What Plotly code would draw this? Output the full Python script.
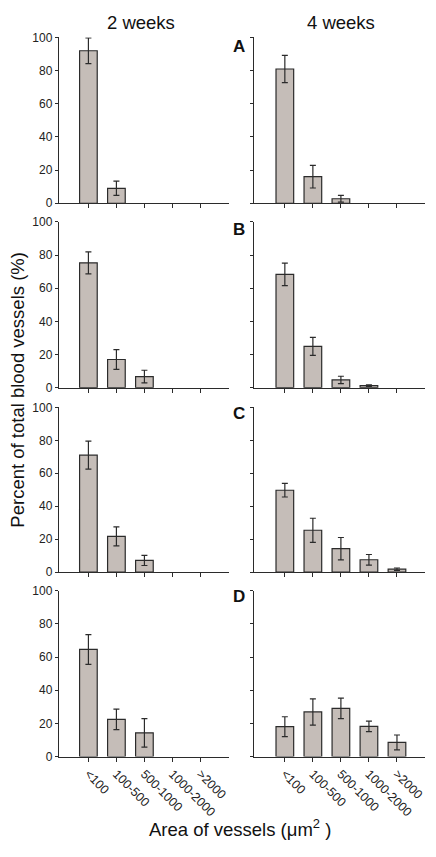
import plotly.graph_objects as go

categories = ["<100", "100-500", "500-1000", "1000-2000", ">2000"]
panel_letters = ["A", "B", "C", "D"]

# 2 weeks (left column), rows A-D
wk2_vals = [
    [92.0, 9.0, 0, 0, 0],
    [75.3, 17.0, 6.7, 0, 0],
    [71.0, 21.7, 7.1, 0, 0],
    [64.6, 22.4, 14.3, 0, 0],
]
wk2_err = [
    [7.8, 4.3, 0, 0, 0],
    [6.6, 6.0, 3.8, 0, 0],
    [8.5, 5.8, 3.1, 0, 0],
    [9.0, 6.2, 8.6, 0, 0],
]
# 4 weeks (right column), rows A-D
wk4_vals = [
    [81.0, 16.0, 2.7, 0, 0],
    [68.4, 24.9, 4.7, 1.2, 0],
    [49.7, 25.4, 14.2, 7.5, 1.8],
    [18.0, 26.9, 29.1, 18.2, 8.5],
]
wk4_err = [
    [8.2, 6.8, 2.0, 0, 0],
    [6.8, 5.4, 2.2, 0.5, 0],
    [4.1, 7.3, 6.8, 3.2, 0.7],
    [6.0, 7.9, 6.2, 3.2, 4.5],
]

W, H = 436, 857
x_px = [(59, 229), (254, 425)]
y_px = [(31, 199.5), (218.5, 387), (407, 574.5), (593.5, 762)]

bar_fill = "#c5bdb8"
ink = "#2b2b2b"
font_fam = "Liberation Sans, Arial, sans-serif"

fig = go.Figure()
layout = {}
idx = 0
for r in range(4):
    for c in range(2):
        idx += 1
        vals = wk2_vals[r] if c == 0 else wk4_vals[r]
        errs = wk2_err[r] if c == 0 else wk4_err[r]
        ys = [v if v > 0 else None for v in vals]
        es = [e if v > 0 else None for v, e in zip(vals, errs)]
        xa = "x" if idx == 1 else f"x{idx}"
        ya = "y" if idx == 1 else f"y{idx}"
        fig.add_trace(go.Bar(
            x=categories, y=ys, xaxis=xa, yaxis=ya,
            width=0.63,
            marker=dict(color=bar_fill, line=dict(color=ink, width=1.2)),
            error_y=dict(type="data", array=es, visible=True,
                         color=ink, thickness=1.2, width=3),
            showlegend=False, hoverinfo="skip",
        ))
        x0, x1 = x_px[c]
        yt, yb = y_px[r]
        xk = "xaxis" if idx == 1 else f"xaxis{idx}"
        yk = "yaxis" if idx == 1 else f"yaxis{idx}"
        bottom = (r == 3)
        layout[xk] = dict(
            domain=[x0 / W, x1 / W], anchor=ya,
            type="category", range=[-1.05, 5.02] if c == 0 else [-1.1, 5.0],
            showline=True, linecolor=ink, linewidth=1.2,
            ticks="outside", ticklen=4, tickwidth=1, tickcolor=ink,
            showticklabels=bottom, tickangle=45,
            tickfont=dict(family=font_fam, size=12.5, color="#222"),
            showgrid=False, zeroline=False, fixedrange=True,
        )
        layout[yk] = dict(
            domain=[1 - yb / H, 1 - yt / H], anchor=xa,
            range=[0, 100], tickvals=[0, 20, 40, 60, 80, 100],
            showline=True, linecolor=ink, linewidth=1.2,
            ticks="outside", ticklen=3, tickwidth=1, tickcolor=ink,
            showticklabels=(c == 0),
            tickfont=dict(family=font_fam, size=12, color="#222"),
            showgrid=False, zeroline=False, fixedrange=True,
        )

annotations = [
    dict(text="2 weeks", x=141 / W, y=1 - 16 / H,
         font=dict(family=font_fam, size=18.5, color="#111")),
    dict(text="4 weeks", x=341 / W, y=1 - 16 / H,
         font=dict(family=font_fam, size=18.5, color="#111")),
    dict(text="Percent of total blood vessels (%)", x=18 / W, y=1 - 389 / H,
         textangle=-90, font=dict(family=font_fam, size=18.5, color="#111")),
    dict(text="Area of vessels (μm<sup>2</sup> )", x=240 / W, y=1 - 835 / H,
         font=dict(family=font_fam, size=18.5, color="#111")),
]
letter_y = [40, 226, 413, 599]
for L, ly in zip(panel_letters, letter_y):
    annotations.append(dict(text=f"<b>{L}</b>", x=239 / W, y=1 - ly / H,
                            font=dict(family=font_fam, size=17, color="#111")))
for a in annotations:
    a.update(xref="paper", yref="paper", xanchor="center", yanchor="middle",
             showarrow=False)

fig.update_layout(
    width=W, height=H, margin=dict(l=0, r=0, t=0, b=0),
    paper_bgcolor="white", plot_bgcolor="white",
    bargap=0.37, annotations=annotations, **layout,
)
fig.write_html(
    "out.html",
    config={"displayModeBar": False, "staticPlot": True},
    post_script="document.body.style.margin='0';document.body.style.overflow='hidden';",
)
